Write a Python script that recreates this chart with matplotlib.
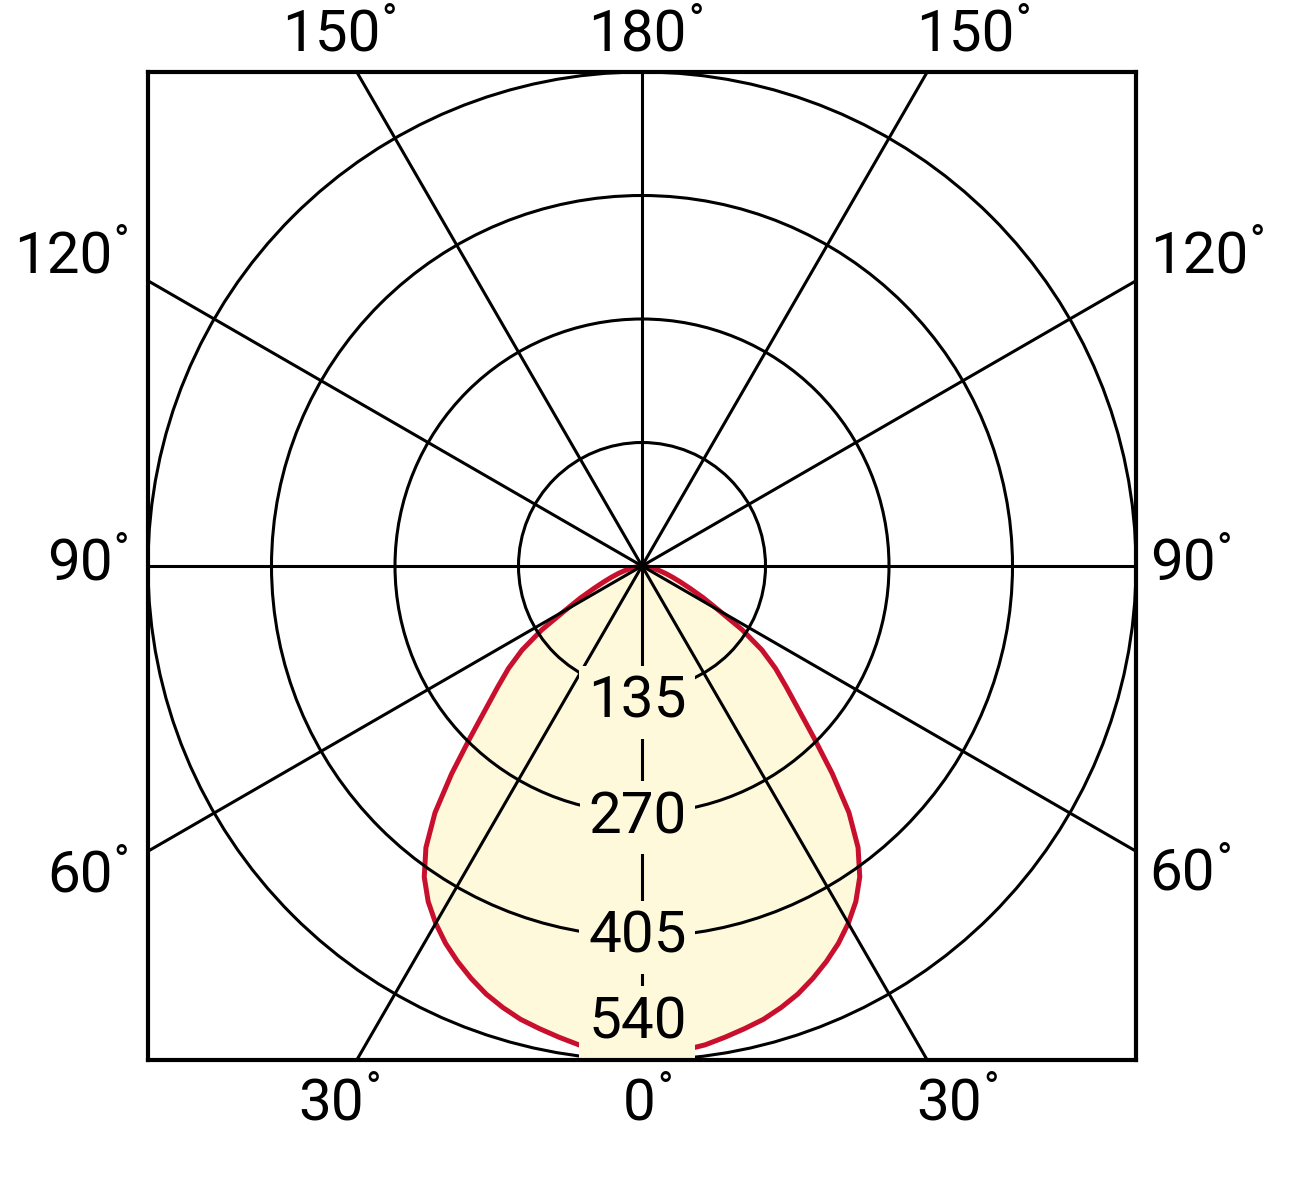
import numpy as np
import matplotlib.pyplot as plt
from matplotlib.patches import Circle

plt.rcParams['font.family'] = ['Roboto', 'DejaVu Sans']

# luminous intensity (cd) vs angle from nadir, symmetric curve
angles = [0, 2.5, 5, 7.5, 10, 12.5, 15, 17.5, 20, 22.5, 25, 27.5, 30, 32.5, 35, 37.5,
          40, 42.5, 45, 47.5, 50, 52.5, 55, 57.5, 60, 62.5, 65, 67.5, 70, 72.5, 75,
          77.5, 80, 82.5, 85, 87.5, 90]
intensity = [535, 534, 531, 528, 523, 518, 513, 506, 498, 488, 477, 465, 451, 435, 415, 388,
             352, 308, 266, 232, 206, 184, 160, 130, 97, 76, 58, 45, 35, 27, 20,
             14, 9, 5, 2.5, 1, 0]

ring_values = [135, 270, 405, 540]
ring_labels = ["135", "270", "405", "540"]

# angle labels: (text, x, y, ha)
angle_labels = [
    ("150", -340, 562, 'center'), ("180", -5, 562, 'center'), ("150", 353, 562, 'center'),
    ("120", -579, 320, 'right'), ("90", -579, -16, 'right'), ("60", -579, -357, 'right'),
    ("120", 555, 320, 'left'), ("90", 555, -16, 'left'), ("60", 555, -355, 'left'),
    ("30", -340, -606, 'center'), ("0", -3, -606, 'center'), ("30", 336, -606, 'center'),
]

red = '#C8102E'
cream = '#FFF9DC'
fs = 42
glw = 2.2

fig = plt.figure(figsize=(13, 11.79), dpi=100)
ax = fig.add_axes([148 / 1300, 119 / 1179, 988 / 1300, 988 / 1179])
ax.set_xlim(-540, 540)
ax.set_ylim(-540, 540)
ax.set_xticks([])
ax.set_yticks([])
for sp in ax.spines.values():
    sp.set_linewidth(3)
    sp.set_zorder(10)

# curve, mirrored to both sides
th = np.radians(np.array(angles, dtype=float))
r = np.array(intensity, dtype=float)
th_full = np.concatenate([-th[::-1], th[1:]])
r_full = np.concatenate([r[::-1], r[1:]])
cx = r_full * np.sin(th_full)
cy = -r_full * np.cos(th_full)
ax.fill(cx, cy, color=cream, zorder=1, lw=0)
ax.plot(cx, cy, color=red, lw=3.6, zorder=2, solid_joinstyle='round')

# grid: rings and spokes
for v in ring_values:
    ax.add_patch(Circle((0, 0), v, fill=False, ec='black', lw=glw, zorder=3))
ax.axhline(0, color='black', lw=glw, zorder=3)
ax.axvline(0, color='black', lw=glw, zorder=3)
for a in [30, 60]:
    s = np.cos(np.radians(a)) / np.sin(np.radians(a))
    ax.axline((0, 0), slope=s, color='black', lw=glw, zorder=3)
    ax.axline((0, 0), slope=-s, color='black', lw=glw, zorder=3)

# ring value labels along the nadir axis
label_y = [-166, -292, -423, -516]
for txt, y in zip(ring_labels, label_y):
    ax.text(-5, y, txt, ha='center', va='baseline', fontsize=fs, zorder=5,
            bbox=dict(boxstyle='square,pad=0.15', fc=cream, ec='none'))

# angle labels with small degree sign
for txt, x, y, ha in angle_labels:
    t = ax.text(x, y, txt, ha=ha, va='baseline', fontsize=fs, clip_on=False)
    ax.annotate('°', xy=(1, 1), xycoords=t, xytext=(1, 5), textcoords='offset points',
                ha='left', va='top', fontsize=30, annotation_clip=False)

fig.savefig('out.png', dpi=100)
